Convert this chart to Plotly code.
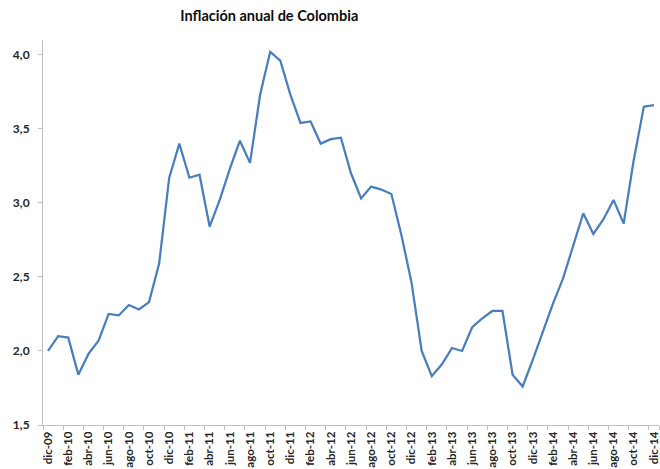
import plotly.graph_objects as go

# Meses de dic-09 a dic-14
meses = ["ene", "feb", "mar", "abr", "may", "jun",
         "jul", "ago", "sep", "oct", "nov", "dic"]
periodos = ["dic-09"] + [f"{m}-{a}" for a in ["10", "11", "12", "13", "14"] for m in meses]

# Inflación anual (%)
inflacion = [
    2.00, 2.10, 2.09, 1.84, 1.98, 2.07, 2.25, 2.24, 2.31, 2.28, 2.33, 2.59,
    3.17, 3.40, 3.17, 3.19, 2.84, 3.02, 3.23, 3.42, 3.27, 3.73, 4.02, 3.96,
    3.73, 3.54, 3.55, 3.40, 3.43, 3.44, 3.20, 3.03, 3.11, 3.09, 3.06, 2.78,
    2.46, 2.00, 1.83, 1.91, 2.02, 2.00, 2.16, 2.22, 2.27, 2.27, 1.84, 1.76,
    1.94, 2.13, 2.32, 2.49, 2.71, 2.93, 2.79, 2.89, 3.02, 2.86, 3.29, 3.65,
    3.66,
]

etiquetas_x = periodos[::2]
valores_y = [1.5, 2.0, 2.5, 3.0, 3.5, 4.0]

fig = go.Figure(
    go.Scatter(
        x=periodos,
        y=inflacion,
        mode="lines",
        line=dict(color="#4a7ebb", width=2.25),
        hoverinfo="x+y",
    )
)

fig.update_layout(
    width=660,
    height=469,
    paper_bgcolor="white",
    plot_bgcolor="white",
    separators=",.",
    showlegend=False,
    margin=dict(l=43, r=1, t=40, b=44, autoexpand=False),
    title=dict(
        text="<b>Inflación anual de Colombia</b>",
        xref="container",
        x=0.408,
        xanchor="center",
        y=0.966,
        yanchor="middle",
        font=dict(family="Lato, Open Sans, sans-serif", size=14.5, color="#0d0d0d"),
    ),
    font=dict(family="Lato, Open Sans, sans-serif", color="#262626"),
)

fig.update_xaxes(
    type="category",
    categoryorder="array",
    categoryarray=periodos,
    range=[-0.5, len(periodos) - 0.5],
    tickmode="array",
    tickvals=etiquetas_x,
    ticktext=[f"<b>{t}</b>" for t in etiquetas_x],
    tickangle=-90,
    tickfont=dict(size=11.5, color="#262626"),
    ticks="outside",
    tickson="boundaries",
    ticklen=4,
    tickcolor="#bfbfbf",
    ticklabelstandoff=1,
    showline=True,
    linecolor="#bfbfbf",
    linewidth=1,
    showgrid=False,
    zeroline=False,
    automargin=False,
)

fig.update_yaxes(
    range=[1.5, 4.1],
    tickmode="array",
    tickvals=valores_y,
    ticktext=[f"<b>{v:.1f}</b>".replace(".", ",") for v in valores_y],
    tickfont=dict(size=12, color="#262626"),
    ticks="outside",
    ticklen=4,
    tickcolor="#bfbfbf",
    ticklabelstandoff=6,
    showline=True,
    linecolor="#bfbfbf",
    linewidth=1,
    showgrid=False,
    zeroline=False,
    automargin=False,
)

fig.write_html("out.html")
